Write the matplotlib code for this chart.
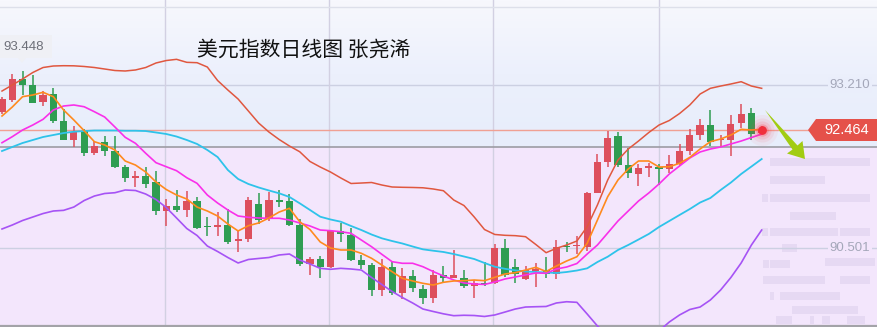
import numpy as np
import matplotlib
matplotlib.use("Agg")
import matplotlib.pyplot as plt
from matplotlib.patches import Polygon, Rectangle
from matplotlib.colors import LinearSegmentedColormap
import matplotlib.transforms as mtransforms

plt.rcParams['font.family'] = ['Noto Sans CJK SC', 'DejaVu Sans']

# daily candles
opens = [92.766, 92.961, 93.310, 93.210, 92.933, 93.060, 92.612, 92.296, 92.450, 92.085,
         92.268, 92.113, 91.852, 91.669, 91.698, 91.603, 91.121, 91.199, 91.133, 91.282,
         90.867, 90.850, 90.883, 90.622, 90.651, 91.232, 90.978, 91.299, 91.282, 90.883,
         90.235, 90.313, 90.190, 90.784, 90.717, 90.302, 90.219, 89.803, 90.190, 89.758,
         90.036, 89.815, 89.675, 90.053, 90.008, 90.002, 89.863, 89.924, 89.914, 90.496,
         90.180, 89.986, 90.127, 90.136, 90.061, 90.539, 90.526, 90.522, 91.420, 91.935,
         92.362, 91.880, 91.736, 91.835, 91.842, 91.814, 91.897, 92.113, 92.379, 92.545,
         92.288, 92.296, 92.573, 92.740, 92.412]
highs = [93.010, 93.393, 93.448, 93.376, 93.115, 93.160, 92.811, 92.529, 92.479, 92.284,
         92.362, 92.362, 91.880, 91.786, 91.852, 91.781, 91.320, 91.465, 91.453, 91.344,
         91.011, 91.099, 91.144, 90.784, 91.349, 91.420, 91.427, 91.465, 91.398, 90.978,
         90.346, 90.368, 90.800, 90.922, 90.838, 90.385, 90.257, 90.318, 90.263, 90.163,
         90.136, 89.887, 90.136, 90.202, 90.468, 90.136, 89.970, 90.273, 90.563, 90.646,
         90.313, 90.202, 90.252, 90.356, 90.634, 90.606, 90.700, 91.437, 92.063, 92.450,
         92.424, 92.158, 91.897, 91.909, 91.897, 92.046, 92.229, 92.479, 92.645, 92.795,
         92.379, 92.711, 92.889, 92.833, 92.529]
lows = [92.728, 92.933, 93.044, 92.903, 92.866, 92.573, 92.288, 92.185, 92.035, 92.046,
        92.030, 91.825, 91.603, 91.520, 91.503, 91.050, 90.867, 91.104, 91.021, 90.825,
        90.706, 90.700, 90.567, 90.440, 90.606, 90.900, 90.955, 91.187, 90.867, 90.202,
        90.053, 90.007, 90.163, 90.606, 90.285, 90.152, 89.708, 89.708, 89.720, 89.648,
        89.775, 89.570, 89.592, 89.928, 90.002, 89.831, 89.675, 89.870, 89.903, 90.024,
        89.924, 89.970, 89.858, 90.007, 89.978, 90.440, 90.401, 90.451, 91.415, 91.842,
        91.842, 91.659, 91.536, 91.686, 91.548, 91.742, 91.869, 92.046, 92.296, 92.196,
        92.175, 92.030, 92.490, 92.296, 92.404]
closes = [92.972, 93.310, 93.210, 92.916, 93.044, 92.617, 92.296, 92.434, 92.085, 92.196,
          92.118, 91.852, 91.669, 91.698, 91.560, 91.121, 91.199, 91.133, 91.282, 90.838,
          90.847, 90.878, 90.606, 90.655, 91.299, 90.966, 91.299, 91.261, 90.883, 90.235,
          90.318, 90.185, 90.789, 90.739, 90.302, 90.224, 89.803, 90.180, 89.758, 90.036,
          89.831, 89.675, 90.053, 90.008, 90.053, 89.863, 89.914, 89.903, 90.496, 90.053,
          90.069, 90.136, 90.152, 90.064, 90.518, 90.518, 90.546, 91.420, 91.935, 92.334,
          91.880, 91.742, 91.835, 91.852, 91.819, 91.897, 92.113, 92.379, 92.545, 92.268,
          92.305, 92.557, 92.728, 92.396, 92.464]

# indicator lines
boll_up = [93.110, 93.210, 93.310, 93.418, 93.501, 93.526, 93.531, 93.529, 93.518, 93.501,
           93.476, 93.451, 93.443, 93.460, 93.501, 93.576, 93.617, 93.637, 93.587, 93.581,
           93.509, 93.285, 93.127, 92.977, 92.778, 92.578, 92.429, 92.304, 92.196, 92.101,
           91.939, 91.847, 91.764, 91.665, 91.573, 91.581, 91.590, 91.548, 91.515, 91.510,
           91.507, 91.502, 91.482, 91.453, 91.299, 91.207, 91.016, 90.808, 90.726, 90.712,
           90.706, 90.689, 90.559, 90.423, 90.496, 90.551, 90.617, 90.855, 91.216, 91.631,
           91.963, 92.146, 92.279, 92.420, 92.545, 92.620, 92.736, 92.878, 93.060, 93.155,
           93.193, 93.227, 93.265, 93.193, 93.155]
ma5 = [92.695, 92.844, 93.016, 93.044, 93.089, 93.016, 92.795, 92.628, 92.451, 92.268,
       92.213, 92.130, 91.947, 91.880, 91.764, 91.598, 91.473, 91.382, 91.315, 91.182,
       91.116, 91.033, 90.900, 90.784, 90.872, 90.917, 91.000, 91.099, 91.161, 90.938,
       90.808, 90.601, 90.501, 90.468, 90.468, 90.413, 90.330, 90.218, 90.107, 89.997,
       89.953, 89.914, 89.886, 89.931, 89.953, 89.958, 89.969, 89.958, 90.014, 90.069,
       90.091, 90.135, 90.180, 90.110, 90.202, 90.285, 90.356, 90.579, 90.966, 91.354,
       91.631, 91.814, 91.947, 91.947, 91.847, 91.852, 91.909, 92.008, 92.146, 92.268,
       92.313, 92.379, 92.474, 92.462, 92.474]
ma10 = [92.251, 92.351, 92.462, 92.545, 92.640, 92.795, 92.861, 92.878, 92.849, 92.766,
        92.678, 92.512, 92.341, 92.241, 92.075, 91.919, 91.852, 91.786, 91.669, 91.576,
        91.382, 91.249, 91.133, 91.033, 91.011, 91.000, 90.995, 90.995, 90.966, 90.917,
        90.867, 90.800, 90.789, 90.772, 90.745, 90.634, 90.522, 90.396, 90.273, 90.247,
        90.247, 90.190, 90.110, 90.036, 89.970, 89.920, 89.903, 89.895, 89.936, 89.986,
        90.019, 90.053, 90.086, 90.081, 90.152, 90.185, 90.243, 90.401, 90.551, 90.750,
        90.950, 91.116, 91.282, 91.415, 91.565, 91.731, 91.864, 91.997, 92.097, 92.146,
        92.180, 92.230, 92.279, 92.337, 92.395]
ma20 = [92.113, 92.180, 92.246, 92.296, 92.346, 92.379, 92.412, 92.434, 92.445, 92.454,
        92.454, 92.454, 92.450, 92.450, 92.445, 92.421, 92.396, 92.354, 92.296, 92.230,
        92.130, 92.013, 91.797, 91.648, 91.565, 91.507, 91.457, 91.410, 91.349, 91.244,
        91.133, 91.021, 90.975, 90.938, 90.867, 90.800, 90.725, 90.662, 90.617, 90.576,
        90.526, 90.479, 90.456, 90.435, 90.401, 90.360, 90.318, 90.252, 90.190, 90.155,
        90.130, 90.110, 90.102, 90.094, 90.085, 90.102, 90.127, 90.163, 90.268, 90.356,
        90.468, 90.551, 90.642, 90.734, 90.850, 90.950, 91.050, 91.149, 91.257, 91.332,
        91.465, 91.589, 91.731, 91.855, 91.980]
boll_dn = [90.817, 90.883, 90.958, 91.016, 91.074, 91.116, 91.127, 91.182, 91.290, 91.365,
           91.407, 91.420, 91.465, 91.457, 91.398, 91.307, 91.174, 91.000, 90.825, 90.709,
           90.534, 90.443, 90.343, 90.252, 90.310, 90.327, 90.343, 90.385, 90.401, 90.302,
           90.235, 90.163, 90.147, 90.163, 90.152, 90.135, 90.011, 89.894, 89.778, 89.678,
           89.587, 89.487, 89.446, 89.407, 89.376, 89.383, 89.379, 89.363, 89.388, 89.437,
           89.487, 89.520, 89.525, 89.529, 89.587, 89.608, 89.598, 89.404, 89.205, 89.055,
           88.939, 88.872, 88.889, 88.972, 89.122, 89.271, 89.388, 89.479, 89.520, 89.637,
           89.803, 90.011, 90.252, 90.551, 90.800]

last_price = 92.464
prev_level = 92.180
grid_levels = [93.210, 90.501]
grid_labels = ['93.210', '90.501']
peak_label = '93.448'
title = '美元指数日线图 张尧浠'

W, H = 878, 327
fig = plt.figure(figsize=(W / 100, H / 100), dpi=100)
ax = fig.add_axes([0, 0, 1, 1])
ax.set_xlim(-0.195, 85.33)
ax.set_ylim(89.188, 94.623)
ax.axis('off')

def px(xp, yp):
    # pixel position -> axes fraction
    return (xp / W, 1 - yp / H)

# background: blue-ish above the previous level, lavender below
top_cmap = LinearSegmentedColormap.from_list('top', ['#e7edfb', '#ecf0fc', '#f7f8fd'])
grad = np.linspace(0, 1, 100).reshape(-1, 1)
ax.imshow(grad, extent=[-0.195, 85.33, prev_level, 94.623], aspect='auto',
          cmap=top_cmap, origin='lower', zorder=0)
ax.axhspan(88.5, prev_level, color='#f3e6fc', zorder=0)

# faint blurred blocks on the right side
blocks = [(770, 158, 100, 8), (770, 176, 55, 8), (762, 194, 6, 8),
          (770, 194, 100, 8), (790, 212, 46, 8), (762, 228, 6, 8), (770, 228, 68, 8),
          (840, 228, 30, 8), (782, 244, 15, 8), (763, 260, 6, 8), (770, 260, 20, 8),
          (825, 258, 50, 8), (763, 276, 62, 8), (840, 276, 30, 8), (770, 292, 4, 8),
          (780, 292, 60, 8), (792, 306, 66, 8), (776, 316, 16, 8), (810, 316, 4, 8),
          (822, 316, 8, 8), (847, 316, 18, 8)]
for bx, by, bw, bh in blocks:
    ax.add_patch(Rectangle(px(bx, by + bh), bw / W, bh / H, transform=ax.transAxes,
                           color='#e6d9f3', lw=0, zorder=0.5))

# grid
for lv in grid_levels:
    ax.axhline(lv, color='#ccd0e2', lw=1.0, zorder=1)
for gx in [15.88, 31.85, 47.83, 64.0]:
    ax.axvline(gx, color='#d2d0e2', lw=1.0, zorder=1)
ax.axhline(94.507, color='#dde0ea', lw=1.0, zorder=1)
ax.axhline(89.205, color='#a3a3a8', lw=1.6, zorder=1)
ax.axhline(prev_level, color='#9c9ca4', lw=1.2, zorder=1)
ax.plot([-0.195, 78.6], [last_price, last_price], color='#f0a093', lw=1.0, zorder=1)

# candles
o = np.array(opens); h = np.array(highs); l = np.array(lows); c = np.array(closes)
x = np.arange(len(c))
up = c >= o
cols = np.where(up, '#dd4f5d', '#2f9d52')
ax.vlines(x, l, h, colors=cols, lw=1.1, zorder=2)
body_lo = np.minimum(o, c)
body_h = np.maximum(np.abs(c - o), 0.022)
ax.bar(x, body_h, bottom=body_lo, width=0.7, color=cols, lw=0, zorder=2.5)

# indicator lines
ax.plot(x, boll_up, color='#e0573f', lw=1.1, zorder=3)
ax.plot(x, ma20, color='#2ec3ea', lw=1.3, zorder=3)
ax.plot(x, ma10, color='#f930ea', lw=1.2, zorder=3)
ax.plot(x, ma5, color='#ff8a1e', lw=1.2, zorder=3)
ax.plot(x, boll_dn, color='#a653f5', lw=1.2, zorder=3)

# glow on the latest price
for s, a in [(500, 0.05), (300, 0.08), (170, 0.12), (80, 0.25)]:
    ax.scatter([x[-1]], [last_price], s=s, color='#ff3b4a', alpha=a, lw=0, zorder=4)
ax.scatter([x[-1]], [last_price], s=40, color='#f0303c', lw=0, zorder=4.5)

# green arrow
arrow_px = [(765, 110), (797.5, 145.5), (802.5, 141), (805, 159), (787, 153.5), (792.5, 149.5)]
ax.add_patch(Polygon([px(*p) for p in arrow_px], closed=True, transform=ax.transAxes,
                     color='#a2cc12', lw=0, zorder=5))

# price tag on the right
tag_px = [(808, 130), (816, 119), (878, 119), (878, 141), (816, 141)]
ax.add_patch(Polygon([px(*p) for p in tag_px], closed=True, transform=ax.transAxes,
                     color='#e5514a', lw=0, zorder=5))
ax.text(*px(847, 130), f'{last_price:.3f}', transform=ax.transAxes, ha='center', va='center',
        color='white', fontsize=10.5, family=['Liberation Sans', 'DejaVu Sans'], zorder=6)

# axis value labels
blend = mtransforms.blended_transform_factory(ax.transAxes, ax.transData)
for lv, lab in zip(grid_levels, grid_labels):
    ax.text(px(850, 0)[0], lv, lab, transform=blend,
            ha='center', va='center', color='#a4a7b9', fontsize=9.5,
            family=['Liberation Sans', 'DejaVu Sans'], zorder=6,
            bbox=dict(boxstyle='square,pad=0.15', fc='#eaeefb' if lv > prev_level else '#f3e6fc', ec='none'))

# peak label box
ax.add_patch(Polygon([px(*p) for p in [(-1, 35), (52, 35), (52, 58), (26, 58), (22, 63), (18, 58), (-1, 58)]],
                     closed=True, transform=ax.transAxes, color='#eff0f5', lw=0, zorder=5))
ax.text(*px(24, 46.5), peak_label, transform=ax.transAxes, ha='center', va='center',
        color='#6d6f78', fontsize=9.5, family=['Liberation Sans', 'DejaVu Sans'], zorder=6)

# title
ax.text(*px(197, 50), title, transform=ax.transAxes, ha='left', va='center',
        color='#111111', fontsize=15, family=['Noto Sans CJK SC', 'DejaVu Sans'], zorder=6)

fig.savefig('out.png', dpi=100)
